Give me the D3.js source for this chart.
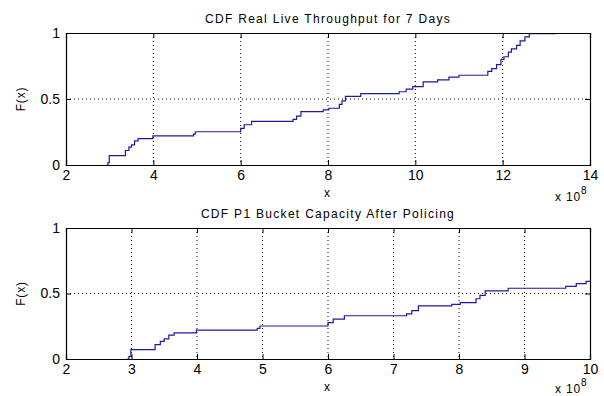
<!DOCTYPE html>
<html>
<head>
<meta charset="utf-8">
<script src="https://cdn.jsdelivr.net/npm/d3@7"></script>
<style>
body { margin: 0; background: #fff; }
text { font-family: "Liberation Sans", Arial, sans-serif; fill: #000; }
</style>
</head>
<body>
<div class="contents"></div>
<script>
var width = 604;
var height = 396;

// empirical CDF steps, x in units of 1e8
var stepX = [2.93, 2.96, 2.99, 3.36, 3.44, 3.50, 3.57, 3.65, 3.99, 4.92, 4.96,
			6.00, 6.08, 6.25, 7.20, 7.28, 7.38, 7.89, 8.02, 8.26, 8.32, 8.40, 8.75,
			9.63, 9.79, 9.94, 10.18, 10.51, 10.77, 11.00, 11.66, 11.75, 11.86, 11.96,
			12.03, 12.13, 12.20, 12.32, 12.40, 12.51, 12.61, 13.20];
var stepF = [0, 0.018, 0.071, 0.11, 0.135, 0.153, 0.183, 0.20, 0.22, 0.234, 0.252,
			0.277, 0.305, 0.33, 0.345, 0.37, 0.405, 0.417, 0.43, 0.46, 0.486, 0.52, 0.54,
			0.555, 0.575, 0.593, 0.63, 0.645, 0.666, 0.68, 0.71, 0.73, 0.76, 0.80,
			0.82, 0.855, 0.88, 0.906, 0.94, 0.97, 0.995, 1.0];

var titles = ["CDF Real Live Throughput for 7 Days", "CDF P1 Bucket Capacity After Policing"];
var xDomains = [[2, 14], [2, 10]];
var xTickVals = [[2, 4, 6, 8, 10, 12, 14], [2, 3, 4, 5, 6, 7, 8, 9, 10]];
var yTickVals = [0, 0.5, 1];

var panels = [{left: 66, right: 590, top: 33, bottom: 165},
			{left: 66, right: 590, top: 228, bottom: 359}];

var points = stepX.map(function(d, i){ return {x: d, f: stepF[i]}; });

var svg = d3.select(".contents").append("svg")
			.attr("width", width)
			.attr("height", height);

panels.forEach(function(p, k){
	var x = d3.scaleLinear().domain(xDomains[k]).range([p.left, p.right]);
	var y = d3.scaleLinear().domain([0, 1]).range([p.bottom, p.top]);
	var g = svg.append("g");

	// dotted grid
	g.selectAll(".vgrid")
		.data(xTickVals[k].slice(1, -1))
		.enter()
		.append("line")
		.attr("x1", function(d){ return x(d); })
		.attr("x2", function(d){ return x(d); })
		.attr("y1", p.top)
		.attr("y2", p.bottom)
		.style("stroke", "#000")
		.style("stroke-dasharray", "1,3");
	g.append("line")
		.attr("x1", p.left).attr("x2", p.right)
		.attr("y1", y(0.5)).attr("y2", y(0.5))
		.style("stroke", "#000")
		.style("stroke-dasharray", "1,3");

	g.append("clipPath").attr("id", "clip" + k)
		.append("rect")
		.attr("x", p.left).attr("y", p.top - 2)
		.attr("width", p.right - p.left).attr("height", p.bottom - p.top + 2);

	var line = d3.line()
		.x(function(d){ return x(d.x); })
		.y(function(d){ return y(d.f); })
		.curve(d3.curveStepAfter);

	g.append("path")
		.datum(points)
		.attr("clip-path", "url(#clip" + k + ")")
		.attr("d", line)
		.style("fill", "none")
		.style("stroke", "#1c1c9e")
		.style("stroke-width", 1.2);

	// axes, ticks pointing inward
	var fmt = function(d){ return d3.format("")(d); };
	g.append("g").attr("transform", "translate(0," + p.bottom + ")")
		.call(d3.axisBottom(x).tickValues(xTickVals[k]).tickFormat(fmt).tickSize(-5).tickPadding(5));
	g.append("g").attr("transform", "translate(0," + p.top + ")")
		.call(d3.axisTop(x).tickValues(xTickVals[k]).tickFormat("").tickSize(-5));
	g.append("g").attr("transform", "translate(" + p.left + ",0)")
		.call(d3.axisLeft(y).tickValues(yTickVals).tickFormat(fmt).tickSize(-5).tickPadding(6));
	g.append("g").attr("transform", "translate(" + p.right + ",0)")
		.call(d3.axisRight(y).tickValues(yTickVals).tickFormat("").tickSize(-5));

	g.selectAll(".domain").style("stroke", "#000").style("stroke-width", 1.2);
	g.selectAll(".tick line").style("stroke", "#000");
	g.selectAll(".tick text").style("font-size", "14px")
		.style("font-family", "'Liberation Sans', Arial, sans-serif");

	// titles and labels
	g.append("text")
		.attr("x", (p.left + p.right) / 2)
		.attr("y", p.top - 10)
		.attr("text-anchor", "middle")
		.style("font-size", "12px")
		.style("letter-spacing", "1.3px")
		.text(titles[k]);
	g.append("text")
		.attr("transform", "translate(25," + (p.top + p.bottom) / 2 + ") rotate(-90)")
		.attr("text-anchor", "middle")
		.style("font-size", "12px")
		.style("letter-spacing", "0.8px")
		.text("F(x)");
	g.append("text")
		.attr("x", (p.left + p.right) / 2 - 1)
		.attr("y", p.bottom + 32)
		.attr("text-anchor", "middle")
		.style("font-size", "12px")
		.text("x");
	var ex = g.append("text")
		.attr("x", p.right - 35)
		.attr("y", Math.min(p.bottom + 36, height - 3))
		.style("font-size", "12px")
		.style("letter-spacing", "0.8px")
		.text("x 10");
	ex.append("tspan")
		.attr("dy", -7)
		.style("font-size", "10px")
		.text("8");
});
</script>
</body>
</html>
